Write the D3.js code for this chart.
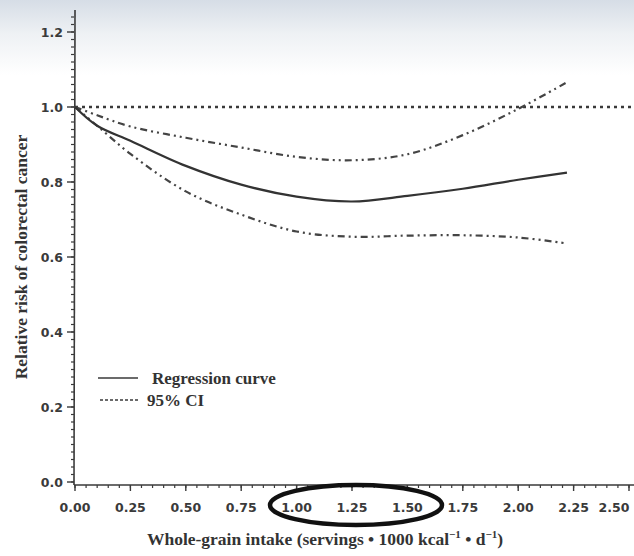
<!DOCTYPE html>
<html>
<head>
<meta charset="utf-8">
<script src="https://cdn.jsdelivr.net/npm/d3@7/dist/d3.min.js"></script>
<style>
  body { margin: 0; background: #fff; }
  #drawing-area { width: 634px; height: 556px; }
</style>
</head>
<body>
<div id="drawing-area"></div>
<script>
// values
var intake = [0, 0.1, 0.25, 0.5, 0.75, 1.0, 1.25, 1.5, 1.75, 2.0, 2.22];
var rr     = [1.0, 0.95, 0.91, 0.843, 0.793, 0.761, 0.748, 0.763, 0.782, 0.806, 0.825];
var upper  = [1.0, 0.978, 0.948, 0.918, 0.892, 0.867, 0.858, 0.874, 0.925, 0.995, 1.066];
var lower  = [1.0, 0.95, 0.875, 0.775, 0.713, 0.668, 0.654, 0.657, 0.658, 0.652, 0.636];
var xTicks = [0, 0.25, 0.5, 0.75, 1.0, 1.25, 1.5, 1.75, 2.0, 2.25, 2.5];
var yTicks = [0, 0.2, 0.4, 0.6, 0.8, 1.0, 1.2];
var legendLabels = ["Regression curve", "95% CI"];

function draw() {
    var sx = 634, sy = 556;
    var svg = d3.select('#drawing-area').append('svg').attr('width', sx).attr('height', sy);

    // scanner shading at the top
    var grad = svg.append('defs').append('linearGradient')
        .attr('id', 'scan').attr('x1', 0).attr('y1', 0).attr('x2', 0).attr('y2', 1);
    grad.append('stop').attr('offset', '0%').attr('stop-color', '#d6dde6');
    grad.append('stop').attr('offset', '45%').attr('stop-color', '#eef1f4');
    grad.append('stop').attr('offset', '100%').attr('stop-color', '#ffffff');
    svg.append('rect').attr('x', 0).attr('y', 0).attr('width', sx).attr('height', 75)
        .attr('fill', 'url(#scan)');

    var x = d3.scaleLinear().domain([0, 2.5]).range([75, 629]);
    var y = d3.scaleLinear().domain([0, 1]).range([482, 107]);
    var ink = '#3a3a3a';
    var axisY = 485;

    // x axis
    svg.append('line').attr('x1', 74).attr('x2', sx).attr('y1', axisY).attr('y2', axisY)
        .attr('stroke', ink).attr('stroke-width', 1.6);
    var minorX = d3.range(0, 2.5001, 0.05);
    svg.selectAll('.xminor').data(minorX).enter().append('line')
        .attr('x1', function (d) { return x(d); }).attr('x2', function (d) { return x(d); })
        .attr('y1', axisY).attr('y2', axisY + 3)
        .attr('stroke', ink).attr('stroke-width', 1.2);
    svg.selectAll('.xmajor').data(xTicks).enter().append('line')
        .attr('x1', function (d) { return x(d); }).attr('x2', function (d) { return x(d); })
        .attr('y1', axisY).attr('y2', axisY + 6)
        .attr('stroke', ink).attr('stroke-width', 1.4);
    svg.selectAll('.xlab').data(xTicks).enter().append('text')
        .attr('x', function (d, i) { return i == xTicks.length - 1 ? x(d) - 15 : x(d); })
        .attr('y', 512)
        .attr('text-anchor', 'middle')
        .style('font-family', 'DejaVu Sans, sans-serif').style('font-weight', 'bold')
        .style('font-size', '12.5px').attr('fill', '#3a3a3a')
        .text(function (d) { return d3.format('.2f')(d); });

    // y axis
    svg.append('line').attr('x1', 74).attr('x2', 75).attr('y1', axisY).attr('y2', 10)
        .attr('stroke', ink).attr('stroke-width', 1.6);
    var minorY = d3.range(0, 1.2401, 0.02);
    svg.selectAll('.yminor').data(minorY).enter().append('line')
        .attr('x1', 74).attr('x2', 71)
        .attr('y1', function (d) { return y(d); }).attr('y2', function (d) { return y(d); })
        .attr('stroke', ink).attr('stroke-width', 1.2);
    svg.selectAll('.ymajor').data(yTicks).enter().append('line')
        .attr('x1', 74).attr('x2', 67)
        .attr('y1', function (d) { return y(d); }).attr('y2', function (d) { return y(d); })
        .attr('stroke', ink).attr('stroke-width', 1.4);
    svg.selectAll('.ylab').data(yTicks).enter().append('text')
        .attr('x', 63).attr('y', function (d) { return y(d) + 4.5; })
        .attr('text-anchor', 'end')
        .style('font-family', 'DejaVu Sans, sans-serif').style('font-weight', 'bold')
        .style('font-size', '12.5px').attr('fill', '#3a3a3a')
        .text(function (d) { return d3.format('.1f')(d); });

    // reference line at 1.0
    svg.append('line').attr('x1', x(0)).attr('x2', sx).attr('y1', y(1)).attr('y2', y(1))
        .attr('stroke', '#3a3a3a').attr('stroke-width', 2.6)
        .attr('stroke-dasharray', '3,4');

    var line = d3.line().curve(d3.curveCatmullRom.alpha(0.5));
    function pts(vals) {
        return intake.map(function (d, i) { return [x(d), y(vals[i])]; });
    }

    svg.append('path').attr('d', line(pts(upper)))
        .attr('fill', 'none').attr('stroke', '#444').attr('stroke-width', 2.2)
        .attr('stroke-dasharray', '7,4,2,4,2,4');
    svg.append('path').attr('d', line(pts(lower)))
        .attr('fill', 'none').attr('stroke', '#444').attr('stroke-width', 2.2)
        .attr('stroke-dasharray', '7,4,2,4,2,4');
    svg.append('path').attr('d', line(pts(rr)))
        .attr('fill', 'none').attr('stroke', '#333').attr('stroke-width', 2.2);

    // legend
    svg.append('line').attr('x1', 98).attr('x2', 138).attr('y1', 378).attr('y2', 378)
        .attr('stroke', ink).attr('stroke-width', 1.3);
    svg.append('line').attr('x1', 100).attr('x2', 138).attr('y1', 400).attr('y2', 400)
        .attr('stroke', ink).attr('stroke-width', 1.3).attr('stroke-dasharray', '3,2');
    svg.append('text').attr('x', 152).attr('y', 384).text(legendLabels[0])
        .style('font-family', 'Liberation Serif, serif').style('font-weight', 'bold')
        .style('font-size', '17px').attr('fill', '#333');
    svg.append('text').attr('x', 147).attr('y', 406).text(legendLabels[1])
        .style('font-family', 'Liberation Serif, serif').style('font-weight', 'bold')
        .style('font-size', '17px').attr('fill', '#333');

    // axis titles
    svg.append('text')
        .attr('transform', 'translate(27,257) rotate(-90)')
        .attr('text-anchor', 'middle')
        .style('font-family', 'Liberation Serif, serif').style('font-weight', 'bold')
        .style('font-size', '17.5px').attr('fill', '#333')
        .text('Relative risk of colorectal cancer');

    var xt = svg.append('text').attr('x', 325).attr('y', 545)
        .attr('text-anchor', 'middle')
        .style('font-family', 'Liberation Serif, serif').style('font-weight', 'bold')
        .style('font-size', '17.5px').attr('fill', '#333');
    xt.append('tspan').text('Whole-grain intake (servings \u2022 1000 kcal');
    xt.append('tspan').attr('dy', -7).style('font-size', '11px').text('\u22121');
    xt.append('tspan').attr('dy', 7).text(' \u2022 d');
    xt.append('tspan').attr('dy', -7).style('font-size', '11px').text('\u22121');
    xt.append('tspan').attr('dy', 7).text(')');

    // hand-drawn ellipse around 1.00 - 1.50
    svg.append('ellipse')
        .attr('cx', (x(1.0) + x(1.5)) / 2 + 4).attr('cy', 505)
        .attr('rx', 86).attr('ry', 20)
        .attr('fill', 'none').attr('stroke', '#111').attr('stroke-width', 4.5);
}

draw();
</script>
</body>
</html>
